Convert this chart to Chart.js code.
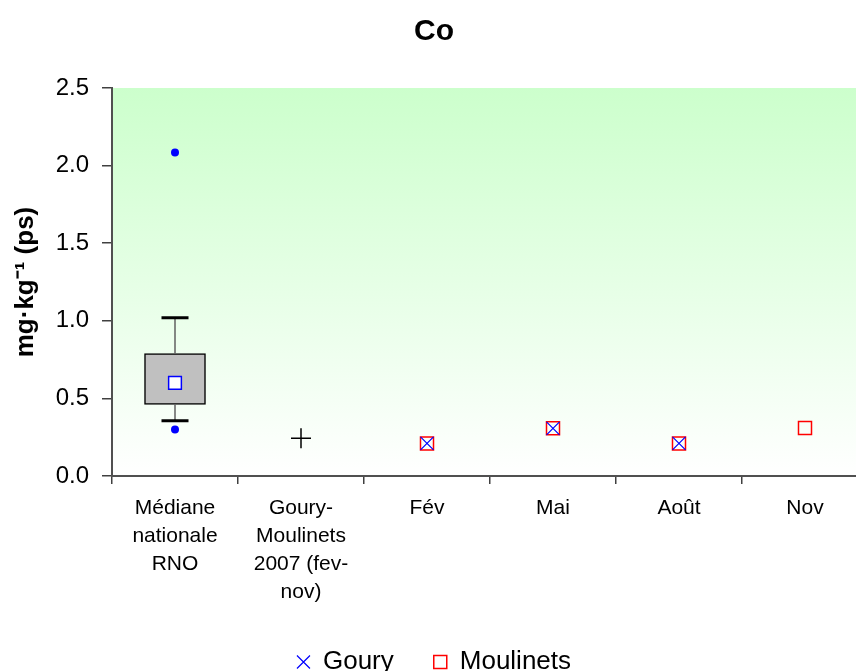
<!DOCTYPE html>
<html>
<head>
<meta charset="utf-8">
<script src="https://cdn.jsdelivr.net/npm/chart.js@4/dist/chart.umd.min.js"></script>
<style>
html,body{margin:0;padding:0;background:#fff;overflow:hidden;}
#wrap{width:856px;height:671px;overflow:hidden;}
canvas{display:block;}
</style>
</head>
<body>
<div id="wrap"><canvas id="c" width="868" height="671"></canvas></div>
<script>
// Categories (x axis labels)
const categories = [
  ["Médiane", "nationale", "RNO"],
  ["Goury-", "Moulinets", "2007 (fev-", "nov)"],
  "Fév", "Mai", "Août", "Nov"
];
const catKeys = ["RNO", "GM2007", "Fév", "Mai", "Août", "Nov"];

// National median box (RNO)
const boxLow = 0.462;
const boxHigh = 0.788;
const whiskerLow = 0.356;
const whiskerHigh = 1.02;
const medianValue = 0.60;
const outlierValues = [2.085, 0.30];

// Goury-Moulinets 2007 global value
const globalValue = 0.243;

// Monthly series
const gouryMonths = ["Fév", "Mai", "Août"];
const gouryValues = [0.21, 0.307, 0.21];
const moulinetsMonths = ["Fév", "Mai", "Août", "Nov"];
const moulinetsValues = [0.21, 0.307, 0.21, 0.31];

const yTicks = [0, 0.5, 1.0, 1.5, 2.0, 2.5];

const FONT = "'Liberation Sans', Arial, sans-serif";

const bgPlugin = {
  id: 'bgGradient',
  beforeDraw(chart) {
    const {ctx, chartArea: a} = chart;
    const g = ctx.createLinearGradient(0, a.top, 0, a.bottom);
    g.addColorStop(0, 'rgb(204,255,204)');
    g.addColorStop(1, 'rgb(255,255,255)');
    ctx.save();
    ctx.fillStyle = g;
    ctx.fillRect(a.left, a.top, a.right - a.left, a.bottom - a.top);
    ctx.restore();
  }
};

const k0 = catKeys[0];
const data = {
  labels: catKeys,
  datasets: [
    {
      type: 'bar', label: 'box',
      data: catKeys.map((k, i) => i === 0 ? [boxLow, boxHigh] : null),
      backgroundColor: '#C0C0C0', borderColor: '#000', borderWidth: 1.5,
      borderSkipped: false, barThickness: 61, order: 20
    },
    {
      type: 'line', label: 'wlow',
      data: [{x: k0, y: whiskerLow}, {x: k0, y: boxLow}],
      borderColor: '#606060', borderWidth: 1.5, pointRadius: 0, order: 19
    },
    {
      type: 'line', label: 'whigh',
      data: [{x: k0, y: boxHigh}, {x: k0, y: whiskerHigh}],
      borderColor: '#606060', borderWidth: 1.5, pointRadius: 0, order: 18
    },
    {
      type: 'line', label: 'caps', showLine: false,
      data: [{x: k0, y: whiskerLow}, {x: k0, y: whiskerHigh}],
      pointStyle: 'line', pointRadius: 13.5, borderColor: '#000', borderWidth: 3, order: 17
    },
    {
      type: 'line', label: 'median', showLine: false,
      data: [{x: k0, y: medianValue}],
      pointStyle: 'rect', pointRadius: 9, borderColor: '#0000FF', backgroundColor: '#FFFFFF',
      borderWidth: 1.5, order: 5
    },
    {
      type: 'line', label: 'outliers', showLine: false,
      data: outlierValues.map(v => ({x: k0, y: v})),
      pointStyle: 'circle', pointRadius: 4, borderWidth: 0,
      borderColor: '#0000FF', backgroundColor: '#0000FF', order: 6
    },
    {
      type: 'line', label: 'global', showLine: false,
      data: [{x: catKeys[1], y: globalValue}],
      pointStyle: 'cross', pointRadius: 10, borderColor: '#000', borderWidth: 1.5, order: 7
    },
    {
      type: 'line', label: 'Goury', showLine: false,
      data: gouryMonths.map((m, i) => ({x: m, y: gouryValues[i]})),
      pointStyle: 'crossRot', pointRadius: 9.2, borderColor: '#0000FF', backgroundColor: '#0000FF',
      borderWidth: 1.2, order: 1
    },
    {
      type: 'line', label: 'Moulinets', showLine: false,
      data: moulinetsMonths.map((m, i) => ({x: m, y: moulinetsValues[i]})),
      pointStyle: 'rect', pointRadius: 9.2, borderColor: '#FF0000', backgroundColor: 'rgba(0,0,0,0)',
      borderWidth: 1.5, order: 2
    }
  ]
};

new Chart(document.getElementById('c'), {
  type: 'bar',
  data,
  plugins: [bgPlugin],
  options: {
    responsive: false,
    animation: false,
    layout: {autoPadding: false, padding: {left: 0, right: 0, top: 0, bottom: -14}},
    plugins: {
      tooltip: {enabled: false},
      title: {
        display: true, text: 'Co', color: '#000',
        font: {family: FONT, size: 30, weight: 'bold'},
        padding: {top: 14, bottom: 38}
      },
      legend: {
        display: true, position: 'bottom',
        labels: {
          filter: (item) => item.text === 'Goury' || item.text === 'Moulinets',
          usePointStyle: true, boxWidth: 13, boxHeight: 13, padding: 40,
          color: '#000', font: {family: FONT, size: 26}
        }
      }
    },
    scales: {
      x: {
        type: 'category',
        offset: true,
        afterFit: (s) => { s.height = 133; s.paddingLeft = 0; s.paddingRight = 0; },
        grid: {display: true, drawOnChartArea: false, drawTicks: true, tickLength: 8, color: '#404040', lineWidth: 1.5, offset: true},
        border: {display: true, color: '#505050', width: 2},
        ticks: {
          color: '#000', font: {family: FONT, size: 21, lineHeight: 1.33}, padding: 10,
          maxRotation: 0, autoSkip: false,
          callback: (v, i) => categories[i]
        }
      },
      y: {
        min: 0, max: 2.5,
        afterFit: (s) => { s.width = 112; },
        grid: {display: true, drawOnChartArea: false, drawTicks: true, tickLength: 10, color: '#404040', lineWidth: 1.5},
        border: {display: true, color: '#505050', width: 2},
        ticks: {
          stepSize: 0.5, color: '#000', padding: 13,
          font: {family: FONT, size: 24},
          callback: (v) => yTicks.includes(v) ? v.toFixed(1) : ''
        },
        title: {
          display: true, text: 'mg·kg⁻¹ (ps)', color: '#000',
          font: {family: FONT, size: 26, weight: 'bold'},
          padding: {top: 10, bottom: 0}
        }
      }
    }
  }
});
</script>
</body>
</html>
